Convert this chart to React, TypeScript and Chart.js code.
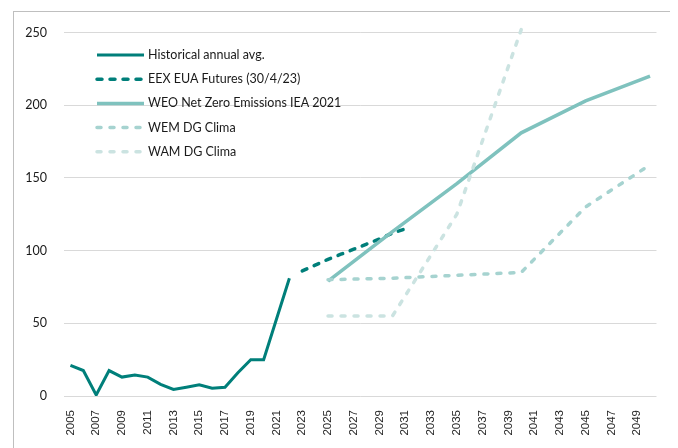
import React, { useEffect, useRef } from "react";
import { Chart, registerables } from "chart.js";

Chart.register(...registerables);

const years: string[] = [];
for (let y = 2005; y <= 2050; y++) years.push(String(y));

const yTicks = [0, 50, 100, 150, 200, 250];

const histYears = [2005, 2006, 2007, 2008, 2009, 2010, 2011, 2012, 2013, 2014, 2015, 2016, 2017, 2018, 2019, 2020, 2021, 2022];
const histValues = [21, 17.5, 0.7, 17.5, 13, 14.5, 13, 8, 4.5, 6, 7.7, 5.3, 6, 16, 25, 25, 53, 81];

const eexYears = [2023, 2024, 2025, 2026, 2027, 2028, 2029, 2030, 2031];
const eexValues = [86, 90, 94, 97.5, 101, 104.5, 108, 112, 115];

const weoYears = [2025, 2030, 2035, 2040, 2045, 2050];
const weoValues = [79, 113, 146, 181, 203, 220];

const wemYears = [2025, 2030, 2035, 2040, 2045, 2050];
const wemValues = [80, 81, 83, 85, 130, 159];

const wamYears = [2025, 2030, 2035, 2040];
const wamValues = [55, 55, 125, 252];

const seriesNames = [
  "Historical annual avg.",
  "EEX EUA Futures (30/4/23)",
  "WEO Net Zero Emissions IEA 2021",
  "WEM DG Clima",
  "WAM DG Clima",
];

function toFull(ys: number[], vs: number[]): (number | null)[] {
  const out: (number | null)[] = years.map(() => null);
  ys.forEach((y, i) => {
    out[y - 2005] = vs[i];
  });
  return out;
}

const legendPlugin = {
  id: "insideLegend",
  afterDraw(chart: any) {
    const ctx = chart.ctx;
    const x0 = 89;
    const x1 = 136;
    const tx = 140;
    const y0 = 47;
    const step = 24.2;
    const ds = chart.data.datasets;
    ctx.save();
    ds.forEach((d: any, i: number) => {
      const y = y0 + i * step;
      ctx.beginPath();
      ctx.strokeStyle = d.borderColor;
      ctx.lineWidth = d.borderWidth;
      ctx.lineCap = d.borderCapStyle || "butt";
      ctx.setLineDash(d.borderDash || []);
      ctx.moveTo(x0, y);
      ctx.lineTo(x1, y);
      ctx.stroke();
      ctx.setLineDash([]);
      ctx.fillStyle = "#1a1a1a";
      ctx.font = "12.5px Lato, 'Open Sans', sans-serif";
      ctx.textBaseline = "middle";
      ctx.textAlign = "left";
      ctx.fillText(d.label, tx, y);
    });
    ctx.restore();
  },
};

export default function App() {
  const ref = useRef<HTMLCanvasElement | null>(null);

  useEffect(() => {
    if (!ref.current) return;
    const darkDash = [5, 8];
    const lightDash = [4, 9];
    const chart = new Chart(ref.current, {
      type: "line",
      data: {
        labels: years,
        datasets: [
          {
            label: seriesNames[0],
            data: toFull(histYears, histValues),
            borderColor: "#007F7A",
            borderWidth: 3,
            pointRadius: 0,
            spanGaps: false,
            order: 4,
          },
          {
            label: seriesNames[1],
            data: toFull(eexYears, eexValues),
            borderColor: "#007F7A",
            borderWidth: 3.5,
            borderDash: darkDash,
            borderCapStyle: "round",
            pointRadius: 0,
            spanGaps: false,
            order: 3,
          },
          {
            label: seriesNames[2],
            data: toFull(weoYears, weoValues),
            borderColor: "#7FC2BE",
            borderWidth: 3.5,
            pointRadius: 0,
            spanGaps: true,
            order: 2,
          },
          {
            label: seriesNames[3],
            data: toFull(wemYears, wemValues),
            borderColor: "#A6D3D0",
            borderWidth: 3.5,
            borderDash: lightDash,
            borderCapStyle: "round",
            pointRadius: 0,
            spanGaps: true,
            order: 1,
          },
          {
            label: seriesNames[4],
            data: toFull(wamYears, wamValues),
            borderColor: "#CBE3E1",
            borderWidth: 3.5,
            borderDash: lightDash,
            borderCapStyle: "round",
            pointRadius: 0,
            spanGaps: true,
            clip: 6,
            order: 0,
          },
        ] as any,
      },
      options: {
        animation: false,
        responsive: false,
        devicePixelRatio: 1,
        layout: { padding: { left: 0, right: 15, top: 20, bottom: 0 } },
        plugins: {
          legend: { display: false },
          tooltip: { enabled: false },
        },
        scales: {
          x: {
            type: "category",
            offset: true,
            grid: { display: false, drawTicks: false },
            border: { display: false },
            ticks: {
              autoSkip: false,
              maxRotation: 90,
              minRotation: 90,
              padding: 14,
              color: "#262626",
              font: { family: "'Liberation Sans', Arial, sans-serif", size: 11.5 },
              callback: function (_v: any, i: number) {
                const y = 2005 + i;
                return y % 2 === 1 ? String(y) : "";
              },
            },
            afterFit: (s: any) => {
              s.height = 52;
            },
          },
          y: {
            min: 0,
            max: 250,
            afterBuildTicks: (s: any) => {
              s.ticks = yTicks.map((v) => ({ value: v }));
            },
            grid: { color: "#D9D9D9", lineWidth: 1, drawTicks: false },
            border: { display: false },
            ticks: {
              padding: 17,
              color: "#1a1a1a",
              font: { family: "Lato, 'Open Sans', sans-serif", size: 12.5 },
            },
            afterFit: (s: any) => {
              s.width = 56;
            },
          },
        },
      } as any,
      plugins: [legendPlugin],
    });
    return () => chart.destroy();
  }, []);

  return (
    <div style={{ position: "relative", width: 670, height: 440, overflow: "hidden" }}>
      <div
        style={{
          position: "absolute",
          left: 5,
          top: 3,
          width: 665,
          height: 500,
          border: "1px solid #BFBFBF",
          boxSizing: "border-box",
        }}
      />
      <canvas
        ref={ref}
        width={670}
        height={440}
        style={{ position: "absolute", left: 0, top: 0, width: 670, height: 440 }}
      />
    </div>
  );
}
